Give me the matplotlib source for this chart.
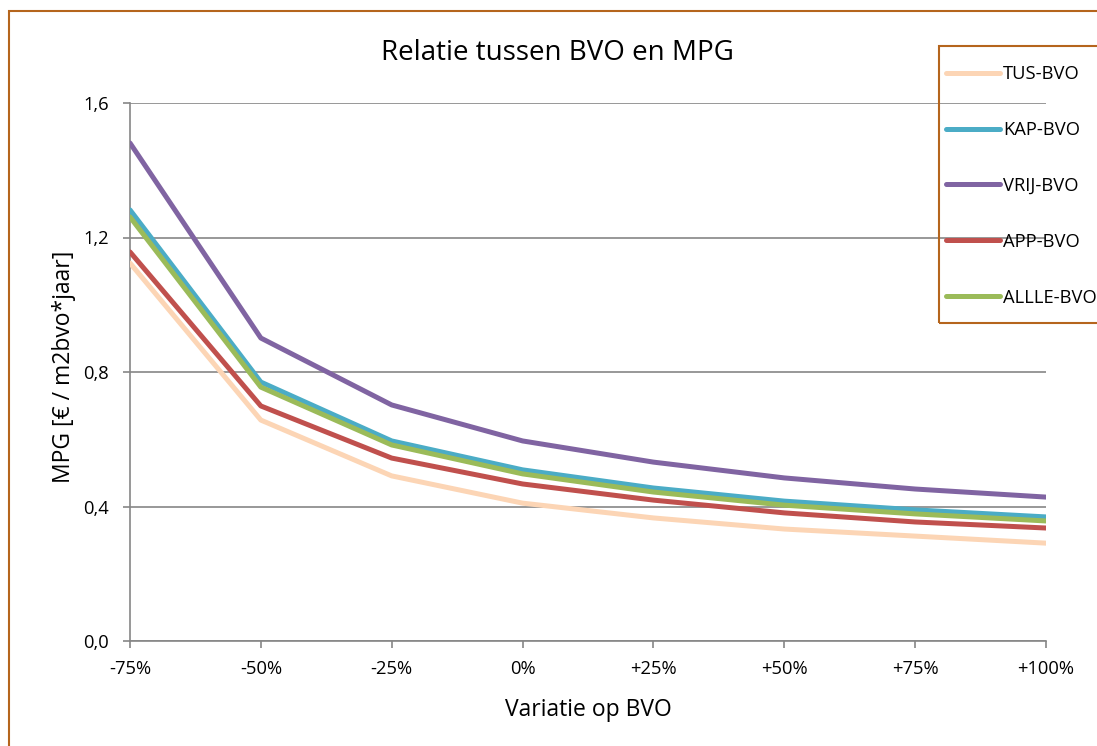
import numpy as np
import matplotlib
matplotlib.use("Agg")
import matplotlib.pyplot as plt
from matplotlib.patches import Rectangle

plt.rcParams["font.family"] = ["Open Sans", "DejaVu Sans"]

# MPG per variant, per BVO-variatie
variaties = ["-75%", "-50%", "-25%", "0%", "+25%", "+50%", "+75%", "+100%"]
tus_bvo   = [1.124, 0.657, 0.491, 0.410, 0.366, 0.333, 0.312, 0.291]
kap_bvo   = [1.282, 0.770, 0.595, 0.509, 0.455, 0.416, 0.390, 0.369]
vrij_bvo  = [1.481, 0.901, 0.702, 0.595, 0.532, 0.485, 0.452, 0.428]
app_bvo   = [1.157, 0.699, 0.544, 0.467, 0.419, 0.381, 0.354, 0.336]
allle_bvo = [1.261, 0.755, 0.583, 0.497, 0.443, 0.404, 0.378, 0.357]
y_ticks   = [0.0, 0.4, 0.8, 1.2, 1.6]

reeksen = [
    ("TUS-BVO",   tus_bvo,   "#FCD5B5"),
    ("KAP-BVO",   kap_bvo,   "#4BACC6"),
    ("VRIJ-BVO",  vrij_bvo,  "#8064A2"),
    ("APP-BVO",   app_bvo,   "#C0504D"),
    ("ALLLE-BVO", allle_bvo, "#9BBB59"),
]

W, H = 1097, 746
fig = plt.figure(figsize=(W / 100, H / 100), dpi=100)
ax = fig.add_axes([130 / W, 1 - 641 / H, (1046 - 130) / W, (641 - 103) / H])

grijs = "#868686"
rand = "#B5651D"

x = np.arange(len(variaties))
for naam, waarden, kleur in reeksen:
    ax.plot(x, waarden, color=kleur, lw=3.6, label=naam,
            solid_capstyle="round", solid_joinstyle="round", zorder=3)

ax.set_xlim(0, len(variaties) - 1)
ax.set_ylim(0, 1.6)
ax.set_xticks(x)
ax.set_xticklabels(variaties)
ax.set_yticks(y_ticks)
ax.set_yticklabels([f"{v:.1f}".replace(".", ",") for v in y_ticks])
ax.grid(axis="y", color=grijs, lw=1.2)
ax.set_axisbelow(True)
for s in ["top", "right"]:
    ax.spines[s].set_visible(False)
for s in ["left", "bottom"]:
    ax.spines[s].set_color(grijs)
    ax.spines[s].set_linewidth(1.2)
ax.tick_params(colors=grijs, labelcolor="black", labelsize=13.2, length=5,
               width=1.2)
ax.tick_params(axis="y", pad=10)
ax.tick_params(axis="x", pad=9)

ax.set_xlabel("Variatie op BVO", fontsize=16.5)
ax.set_ylabel("MPG [€ / m2bvo*jaar]", fontsize=16.5)
ax.xaxis.set_label_coords(0.5, (641 - 698) / 538)
ax.yaxis.set_label_coords((76 - 130) / 916, (641 - 367) / 538)
fig.text(557 / W, 1 - 53 / H, "Relatie tussen BVO en MPG", fontsize=20,
         ha="center", va="center")

# legenda: kader apart getekend, items via fig.legend
fig.patches.append(Rectangle((939 / W, 1 - 323 / H), 0.2, (323 - 46) / H,
                             transform=fig.transFigure, fill=False,
                             edgecolor=rand, lw=1.5))
fig.legend(loc="upper left", bbox_to_anchor=(946 / W, 1 - 65 / H),
           fontsize=13.2, frameon=False, handlelength=2.95,
           handletextpad=0.16, labelspacing=2.07, borderpad=0,
           borderaxespad=0)

# buitenkader van de grafiek
fig.patches.append(Rectangle((9 / W, -0.05), 1.2, 1 - 11 / H + 0.05,
                             transform=fig.transFigure, fill=False,
                             edgecolor=rand, lw=1.5))

fig.savefig("out.png", dpi=100)
